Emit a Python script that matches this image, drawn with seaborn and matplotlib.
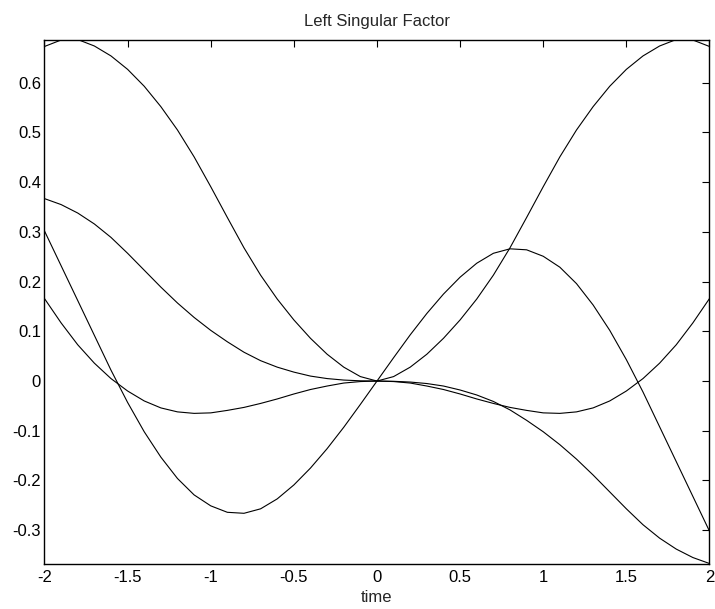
import matplotlib
matplotlib.use("Agg")
import matplotlib.pyplot as plt
from matplotlib.ticker import FuncFormatter
import numpy as np
import pandas as pd
import seaborn as sns

# Sample times
time = [-2.0, -1.9, -1.8, -1.7, -1.6, -1.5, -1.4, -1.3, -1.2, -1.1, -1.0,
        -0.9, -0.8, -0.7, -0.6, -0.5, -0.4, -0.3, -0.2, -0.1, 0.0,
        0.1, 0.2, 0.3, 0.4, 0.5, 0.6, 0.7, 0.8, 0.9, 1.0,
        1.1, 1.2, 1.3, 1.4, 1.5, 1.6, 1.7, 1.8, 1.9, 2.0]

# Columns of the left singular factor
factor_1 = [0.673, 0.686, 0.687, 0.674, 0.654, 0.627, 0.593, 0.552, 0.505, 0.451, 0.391,
            0.329, 0.268, 0.213, 0.165, 0.123, 0.086, 0.054, 0.028, 0.009, 0.000,
            0.009, 0.028, 0.054, 0.086, 0.123, 0.165, 0.213, 0.268, 0.329, 0.391,
            0.451, 0.505, 0.552, 0.593, 0.627, 0.654, 0.674, 0.687, 0.686, 0.673]

factor_2 = [0.367, 0.355, 0.338, 0.316, 0.289, 0.257, 0.223, 0.189, 0.157, 0.128, 0.102,
            0.079, 0.058, 0.041, 0.028, 0.018, 0.010, 0.005, 0.002, 0.0005, 0.000,
            -0.0005, -0.002, -0.005, -0.010, -0.018, -0.028, -0.041, -0.058, -0.079, -0.102,
            -0.128, -0.157, -0.189, -0.223, -0.257, -0.289, -0.316, -0.338, -0.355, -0.367]

factor_3 = [0.302, 0.232, 0.162, 0.092, 0.022, -0.043, -0.102, -0.153, -0.196, -0.229, -0.251,
            -0.264, -0.266, -0.257, -0.237, -0.209, -0.175, -0.136, -0.093, -0.047, 0.000,
            0.047, 0.093, 0.136, 0.175, 0.209, 0.237, 0.257, 0.266, 0.264, 0.251,
            0.229, 0.196, 0.153, 0.102, 0.043, -0.022, -0.092, -0.162, -0.232, -0.302]

factor_4 = [0.166, 0.117, 0.073, 0.036, 0.005, -0.020, -0.040, -0.054, -0.062, -0.065, -0.064,
            -0.059, -0.053, -0.045, -0.036, -0.026, -0.017, -0.010, -0.004, -0.001, 0.000,
            -0.001, -0.004, -0.010, -0.017, -0.026, -0.036, -0.045, -0.053, -0.059, -0.064,
            -0.065, -0.062, -0.054, -0.040, -0.020, 0.005, 0.036, 0.073, 0.117, 0.166]

x_ticks = [-2, -1.5, -1, -0.5, 0, 0.5, 1, 1.5, 2]
y_ticks = [-0.3, -0.2, -0.1, 0, 0.1, 0.2, 0.3, 0.4, 0.5, 0.6]

sns.set_style("white")
plt.rcParams["font.family"] = ["Liberation Sans", "DejaVu Sans"]
plt.rcParams["axes.unicode_minus"] = False

fig = plt.figure(figsize=(7.15, 6.09), dpi=100)
ax = fig.add_axes([0.0622, 0.0747, 0.9301, 0.8604])

series = [factor_1, factor_2, factor_3, factor_4]
for values in series:
    df = pd.DataFrame({"time": time, "value": values})
    sns.lineplot(data=df, x="time", y="value", color="black", linewidth=0.8, ax=ax)

all_vals = np.concatenate([np.asarray(s) for s in series])
ax.set_xlim(min(time), max(time))
ax.set_ylim(all_vals.min(), all_vals.max())

ax.set_xticks(x_ticks)
ax.set_yticks(y_ticks)
fmt = FuncFormatter(lambda v, pos: "%g" % round(v, 4))
ax.xaxis.set_major_formatter(fmt)
ax.yaxis.set_major_formatter(fmt)

ax.tick_params(axis="both", which="major", direction="in", length=5, width=0.8,
               top=True, right=True, labelsize=12, colors="black")
ax.tick_params(axis="x", pad=4.5)
ax.tick_params(axis="y", pad=2.5)

for sp in ax.spines.values():
    sp.set_visible(True)
    sp.set_color("black")
    sp.set_linewidth(1.0)

ax.set_title("Left Singular Factor", fontsize=12, pad=9.5)
ax.set_xlabel("time", fontsize=12, labelpad=4)
ax.set_ylabel("")

fig.savefig("out.png", dpi=100)
